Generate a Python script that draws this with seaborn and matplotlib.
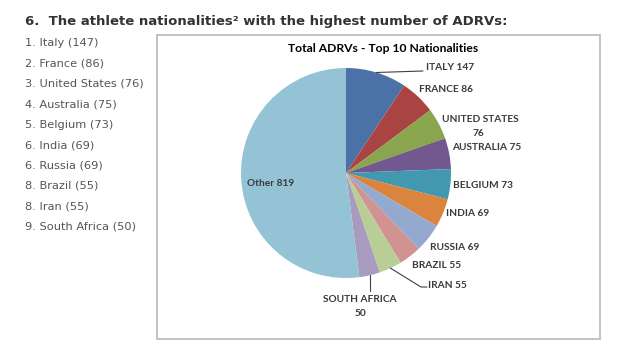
import matplotlib
matplotlib.use("Agg")
import matplotlib.pyplot as plt
import matplotlib.patches as mpatches
import numpy as np
import seaborn as sns

# ---- data ----
countries = ["Italy", "France", "United States", "Australia", "Belgium",
             "India", "Russia", "Brazil", "Iran", "South Africa"]
counts = [147, 86, 76, 75, 73, 69, 69, 55, 55, 50]
ranks = [1, 2, 3, 4, 5, 6, 6, 8, 8, 9]
other_label = "Other"
other_count = 819

pie_labels = [c.upper() for c in countries] + [other_label]
pie_values = counts + [other_count]
pie_colors = ["#4A72A6", "#A94442", "#89A54E", "#71588F", "#4198AF",
              "#DB843D", "#93A9CF", "#D19392", "#B9CD96", "#A99BBD", "#93C3D5"]

heading = "6.  The athlete nationalities\u00b2 with the highest number of ADRVs:"
chart_title = "Total ADRVs - Top 10 Nationalities"

sns.set_theme(style="white")
plt.rcParams["font.family"] = ["DejaVu Sans"]

W, H = 624, 350
fig = plt.figure(figsize=(W / 100, H / 100), dpi=100)
ax = fig.add_axes([0, 0, 1, 1])

def Y(y):
    return H - y

# pie
cx, cy, R = 346, Y(173), 105
wedges, _ = ax.pie(pie_values, colors=pie_colors, startangle=90, counterclock=False,
                   center=(cx, cy), radius=R, frame=True,
                   wedgeprops=dict(linewidth=0))
ax.set_xlim(0, W)
ax.set_ylim(0, H)
ax.set_aspect("equal")
ax.axis("off")

# box
ax.add_patch(mpatches.Rectangle((157, Y(339)), 600 - 157, 339 - 35, fill=False,
                                edgecolor="#bdbdbd", linewidth=1.3))

# heading and list
ax.text(25, Y(21), heading, fontsize=9.5, fontweight="bold", color="#333333",
        ha="left", va="center", family="DejaVu Sans")
for i, (r, c, v) in enumerate(zip(ranks, countries, counts)):
    ax.text(25, Y(43 + i * 20.4), f"{r}. {c} ({v})", fontsize=8.2, color="#555555",
            ha="left", va="center", family="DejaVu Sans")

# chart title
cfont = "Lato"
ax.text(383, Y(49), chart_title, fontsize=8.7, fontweight="bold", color="#000000",
        ha="center", va="center", family=cfont)

# wedge mid-angles
total = sum(pie_values)
cum = np.cumsum([0] + pie_values)
def edge_point(i, rr=R):
    mid = (cum[i] + cum[i + 1]) / 2 / total * 2 * np.pi
    return cx + rr * np.sin(mid), cy + rr * np.cos(mid)

lab_col = "#3a3a3a"
lfs = 7.3
pos = {
    0: (426, 68, "left"), 1: (419, 89, "left"), 2: (442, 120, "left"),
    3: (452, 147, "left"), 4: (453, 185, "left"), 5: (446, 214, "left"),
    6: (430, 247, "left"), 7: (412, 265, "left"), 8: (428, 285, "left"),
}
for i in range(9):
    x, y, ha = pos[i]
    if i == 2:
        ax.text(x, Y(y), pie_labels[i], fontsize=lfs, fontweight="bold", color=lab_col,
                ha="left", va="center", family=cfont)
        ax.text(478, Y(134), str(pie_values[i]), fontsize=lfs, fontweight="bold",
                color=lab_col, ha="center", va="center", family=cfont)
    else:
        ax.text(x, Y(y), f"{pie_labels[i]} {pie_values[i]}", fontsize=lfs,
                fontweight="bold", color=lab_col, ha=ha, va="center", family=cfont)
# South Africa
ax.text(360, Y(299), pie_labels[9], fontsize=lfs, fontweight="bold", color=lab_col,
        ha="center", va="center", family=cfont)
ax.text(360, Y(313), str(pie_values[9]), fontsize=lfs, fontweight="bold", color=lab_col,
        ha="center", va="center", family=cfont)
# Other
ax.text(247, Y(184), f"{pie_labels[10]} {pie_values[10]}", fontsize=lfs, fontweight="bold",
        color=lab_col, ha="left", va="center", family=cfont)

# leader lines
lc = "#404040"
px, py = edge_point(0)
ax.plot([px, 423], [py, Y(71)], color=lc, lw=0.8)
px, py = edge_point(8)
ax.plot([px, 421, 427], [py, Y(287), Y(287)], color=lc, lw=0.8)
px, py = edge_point(9)
ax.plot([px, px], [py, Y(291)], color=lc, lw=0.8)

fig.savefig("out.png", dpi=100)
